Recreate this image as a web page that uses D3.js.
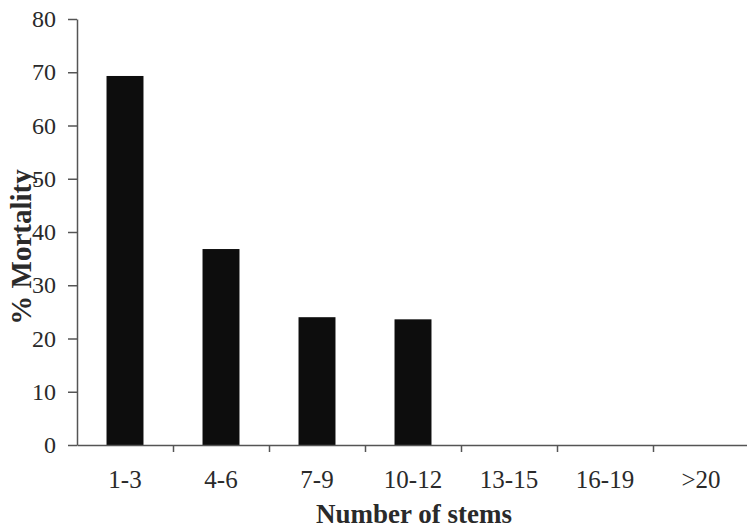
<!DOCTYPE html>
<html>
<head>
<meta charset="utf-8">
<script src="https://cdn.jsdelivr.net/npm/d3@7"></script>
<style>
  body { margin: 0; background: #fff; }
  text { font-family: 'Liberation Serif', 'Times New Roman', serif; fill: #2a2a2a; }
</style>
</head>
<body>
<div id="chart"></div>
<script>
// data
const categories = ['1-3', '4-6', '7-9', '10-12', '13-15', '16-19', '>20']
const mortality = [69.3, 36.8, 24.0, 23.6, 0, 0, 0]
const yTicks = [0, 10, 20, 30, 40, 50, 60, 70, 80]

const width = 747
const height = 531
const margin = {top: 19, right: -2, bottom: 86, left: 77}

const svg = d3.select('#chart')
  .append('svg')
  .attr('width', width)
  .attr('height', height)

const x = d3.scaleBand()
  .domain(categories)
  .range([margin.left, width - margin.right])
  .paddingInner(0.615)
  .paddingOuter(0.3075)

// boundaries between categories, for the tick marks
const xEdge = d3.scaleLinear()
  .domain([0, categories.length])
  .range([margin.left, width - margin.right])

const y = d3.scaleLinear()
  .domain([0, 80])
  .range([height - margin.bottom, margin.top])

// bars
svg.selectAll('.bar')
  .data(mortality)
  .enter()
  .append('rect')
  .attr('class', 'bar')
  .attr('x', (d, i) => x(categories[i]))
  .attr('width', x.bandwidth())
  .attr('y', d => y(d))
  .attr('height', d => y(0) - y(d))
  .attr('fill', '#0d0d0d')

// y axis
const yAxis = svg.append('g')
  .attr('transform', 'translate(' + margin.left + ',0)')
  .call(d3.axisLeft(y).tickValues(yTicks).tickSize(9).tickSizeOuter(0).tickPadding(12))
yAxis.select('.domain').attr('stroke', '#555').attr('stroke-width', 1.5)
yAxis.selectAll('.tick line').attr('stroke', '#555').attr('stroke-width', 1.5)
yAxis.selectAll('.tick text')
  .attr('font-size', 24)
  .attr('font-family', "'Liberation Serif', serif")
  .attr('fill', '#2a2a2a')

// x axis: line with ticks at category boundaries
const xAxis = svg.append('g')
  .attr('transform', 'translate(0,' + y(0) + ')')
  .call(d3.axisBottom(xEdge).tickValues(d3.range(1, categories.length)).tickSize(7).tickSizeOuter(0).tickFormat(''))
xAxis.select('.domain').attr('stroke', '#555').attr('stroke-width', 1.5)
xAxis.selectAll('.tick line').attr('stroke', '#555').attr('stroke-width', 1.5)

// category labels
svg.append('g')
  .attr('transform', 'translate(0,' + y(0) + ')')
  .call(d3.axisBottom(x).tickSize(0).tickPadding(25))
  .call(g => g.select('.domain').remove())
  .selectAll('text')
  .attr('font-size', 25)
  .attr('font-family', "'Liberation Serif', serif")
  .attr('fill', '#2a2a2a')

// axis titles
svg.append('text')
  .text('Number of stems')
  .attr('x', 414)
  .attr('y', 523)
  .attr('text-anchor', 'middle')
  .attr('font-size', 27)
  .attr('font-weight', 'bold')

svg.append('text')
  .text('% Mortality')
  .attr('transform', 'translate(31,247) rotate(-90)')
  .attr('text-anchor', 'middle')
  .attr('font-size', 29)
  .attr('font-weight', 'bold')
</script>
</body>
</html>
